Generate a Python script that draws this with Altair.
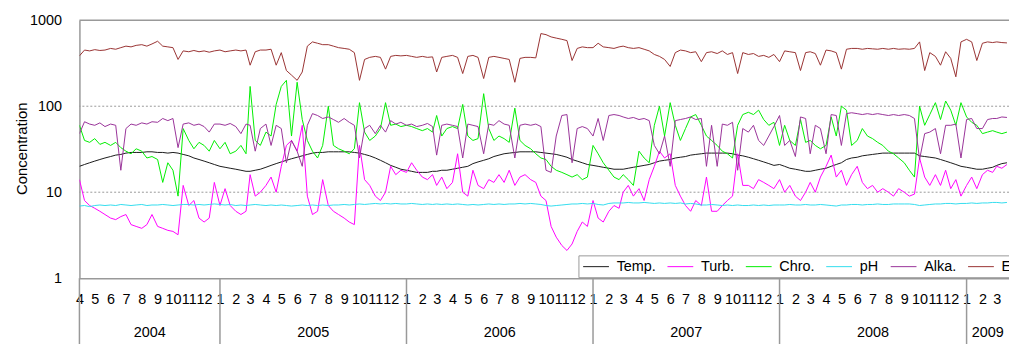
import altair as alt
import pandas as pd

# ---------------- data ----------------
SERIES = ["Temp.", "Turb.", "Chro.", "pH", "Alka.", "EC"]
COLORS = ["#1a1a1a", "#ff00ff", "#00ee00", "#33ddee", "#993399", "#993333"]

FIRST_MONTH = "2004-04-01"
LAST_MONTH = "2009-03-01"
READ_DAYS = [0, 10, 20]          # readings on the 1st, 11th and 21st of each month

YEAR_STARTS = ["2004-04-01", "2005-01-01", "2006-01-01", "2007-01-01",
               "2008-01-01", "2009-01-01"]
YEAR_LABELS = ["2004", "2005", "2006", "2007", "2008", "2009"]
AXIS_END = "2009-03-25"
Y_TICKS = [1, 10, 100, 1000]
GRID_AT = [10, 100]

temp = (
    [20, 21, 22,  23, 24, 25,  26, 27, 27.5,  28.5, 29, 29,  29, 29.5, 29.5,  29, 29, 28.5,  29, 28.5, 27.5,  26.5, 25, 24,  23, 22, 21]
    + [20, 19.5, 19,  18.5, 18, 17.5,  17.5, 18, 18.5,  19.5, 20.5, 21.5,  22.5, 23.5, 24.5,  25.5, 26.5, 27.5,  28.5, 29, 29,  29.5, 29.5, 29.5,  29.5, 29.5, 29,  28.5, 27.5, 26.5,  25, 23.5, 22,  20.5, 19.5, 18.5]
    + [18, 17.5, 17,  17, 17, 17.5,  17.5, 18, 18,  18.5, 19, 19.5,  20, 21.5, 22.5,  23.5, 24.5, 26,  27, 28, 28.5,  29, 29.5, 29.5,  29.5, 29.5, 29,  28.5, 28, 27.5,  26.5, 25.5, 24,  23, 22, 21]
    + [20.5, 20, 19.5,  19, 18.5, 18.5,  18.5, 19, 19.5,  20, 20.5, 21,  22, 23, 23.5,  24, 25, 25.5,  26, 27, 27.5,  28, 28.5, 28.5,  28.5, 28.5, 28.5,  28, 27, 26.5,  25.5, 24.5, 23.5,  22.5, 21.5, 20.5]
    + [21, 20, 19,  18.5, 18, 17.5,  17.5, 18, 18.5,  19, 20, 21,  22, 24, 25,  25.5, 26.5, 27,  27.5, 28, 28.5,  28.5, 28.5, 28.5,  28.5, 28.5, 28.5,  26.5, 26, 25.5,  25, 24, 23,  22, 21, 20]
    + [19.5, 19, 18.5,  18.5, 19, 19.5,  20.5, 21.5, 22]
)

turb = (
    [14, 8, 7,  6.5, 6, 5.5,  5, 4.8, 5.2,  5.5, 4.2, 4,  3.8, 4.2, 5.5,  4, 3.8, 3.6,  3.5, 3.2, 12,  7, 8, 5,  4.5, 5, 13]
    + [7, 11, 7,  6, 5.5, 6,  16, 9, 10,  12, 15, 10,  20, 35, 40,  30, 60, 9,  5.5, 6, 14,  7, 6, 5.5,  5, 4.5, 4.2,  35, 14, 12,  9, 8, 10,  20, 16, 18]
    + [17, 22, 18,  15, 14, 16,  12, 15, 11,  13, 28, 10,  9, 18, 12,  11, 14, 13,  16, 13, 18,  12, 15, 16,  14, 13, 9,  8, 4, 3,  2.4, 2.1, 2.5,  3.5, 4.5, 4]
    + [8, 5, 4.5,  6, 7, 6.5,  10, 12, 9,  11, 8, 14,  20, 30, 25,  28, 12, 9,  7, 6, 8,  7, 15, 6,  6, 7, 8,  9, 28, 12,  12, 11, 14,  13, 12, 11]
    + [14, 10, 12,  9, 8, 10,  13, 10, 15,  20, 27, 15,  18, 12, 16,  20, 13, 11,  12, 10, 11,  10, 9, 11,  10, 9, 9.5,  25, 15, 12,  16, 12, 18,  11, 14, 9]
    + [12, 15, 11,  16, 18, 17,  20, 19, 21]
)

chro = (
    [60, 40, 38,  42, 36, 38,  35, 38, 33,  30, 28, 32,  30, 25, 26,  24, 13, 22,  18, 9, 55,  40, 32, 38,  35, 30, 40]
    + [32, 38, 28,  30, 35, 28,  170, 40, 35,  50, 45, 105,  170, 200, 45,  190, 70, 40,  30, 25, 35,  100, 35, 32,  30, 28, 32,  110, 50, 40,  45, 55, 110,  60, 62, 58]
    + [60, 58, 55,  52, 55, 50,  78, 45, 55,  58, 55, 105,  45, 40, 42,  140, 55, 40,  45, 42, 38,  95, 40, 35,  32, 28, 25,  24, 20, 18,  17, 16, 15,  16, 14, 15]
    + [35, 28, 22,  18, 15, 14,  16, 14, 12,  30, 25, 22,  60, 100, 45,  110, 60, 40,  55, 75, 80,  60, 45, 40,  35, 30, 28,  25, 60, 80,  85, 80, 90,  70, 60, 65]
    + [35, 60, 40,  35, 70, 38,  40, 35, 32,  35, 75, 45,  100, 90, 35,  40, 55, 45,  42, 38, 35,  30, 28, 25,  22, 18, 15,  100, 60, 80,  110, 70, 115,  90, 60, 110]
    + [75, 65, 60,  48, 50, 52,  50, 48, 50]
)

ph = (
    [6.9, 7.0, 6.8,  7.0, 7.1, 7.0,  7.1, 7.0, 7.2,  7.1, 7.0, 7.1,  7.2, 7.0, 7.1,  7.1, 7.2, 7.1,  7.0, 7.1, 7.2,  7.2, 7.1, 7.2,  7.1, 7.2, 7.3]
    + [7.2, 7.1, 7.2,  7.0, 7.1, 7.0,  7.1, 7.2, 7.1,  7.0, 7.1, 7.0,  7.1, 7.0, 6.9,  7.0, 7.1, 7.0,  7.1, 7.0, 7.1,  7.0, 7.1, 7.1,  7.2, 7.1, 7.2,  7.3, 7.2, 7.3,  7.4, 7.3, 7.4,  7.3, 7.4, 7.3]
    + [7.3, 7.4, 7.3,  7.2, 7.3, 7.2,  7.3, 7.2, 7.3,  7.2, 7.3, 7.2,  7.1, 7.2, 7.1,  7.2, 7.3, 7.2,  7.3, 7.2, 7.3,  7.3, 7.4, 7.3,  7.4, 7.3, 7.2,  7.0, 6.9, 7.0,  7.1, 7.2, 7.3,  7.3, 7.4, 7.3]
    + [7.4, 7.2, 7.1,  7.4, 7.5, 7.5,  7.5, 7.6, 7.5,  7.5, 7.6, 7.5,  7.4, 7.5, 7.4,  7.5, 7.4, 7.5,  7.3, 7.4, 7.3,  7.1, 7.1, 7.2,  7.1, 7.0, 7.1,  7.0, 7.1, 7.0,  7.0, 7.1, 7.0,  7.1, 7.0, 7.1]
    + [7.1, 7.1, 7.2,  7.1, 7.1, 7.2,  7.1, 7.1, 7.2,  7.1, 7.0, 6.9,  7.1, 7.1, 7.2,  7.2, 7.1, 7.2,  7.2, 7.3, 7.2,  7.2, 7.3, 7.3,  7.3, 7.3, 7.2,  7.0, 7.1, 7.2,  7.3, 7.3, 7.4,  7.4, 7.3, 7.4]
    + [7.4, 7.5, 7.4,  7.5, 7.5, 7.6,  7.6, 7.5, 7.6]
)

alka = (
    [48, 66, 62,  60, 64, 58,  62, 60, 18,  55, 62, 60,  64, 62, 66,  65, 72, 68,  72, 33, 62,  64, 60, 62,  58, 50, 62]
    + [62, 60, 63,  58, 48, 62,  60, 30, 55,  62, 35, 60,  55, 22, 40,  30, 20, 60,  82, 78, 72,  75, 70, 65,  72, 65, 60,  25, 55, 60,  48, 60, 50,  68, 62, 65]
    + [60, 62, 58,  60, 63, 58,  27, 60, 62,  60, 58, 25,  62, 60, 58,  28, 62, 60,  68, 62, 60,  25, 60, 62,  60, 62, 58,  18, 17, 45,  78, 80, 22,  55, 58, 55]
    + [45, 72, 40,  78, 80, 78,  75, 72, 74,  70, 72, 68,  35, 28, 45,  20, 68, 70,  72, 75, 70,  72, 20, 60,  20, 62, 60,  65, 18, 55,  50, 60, 40,  35, 45, 58]
    + [78, 35, 40,  26, 75, 72,  28, 60, 55,  28, 80, 78,  35, 82, 84,  82, 80, 82,  80, 82, 80,  78, 80, 78,  80, 78, 72,  24, 48, 50,  55, 28, 60,  60, 62, 25]
    + [70, 72, 55,  55, 70, 72,  72, 75, 74]
)

ec = (
    [385, 450, 440,  455, 445, 450,  470, 460, 480,  500, 490, 510,  520, 500, 530,  570, 500, 490,  480, 350, 440,  430, 445, 430,  440, 425, 440]
    + [450, 430, 440,  450, 440, 450,  300, 430, 450,  450, 460, 300,  420, 260, 230,  200, 250, 500,  560, 540, 520,  520, 500, 480,  470, 460, 420,  200, 350, 370,  380, 370, 270,  380, 390, 385]
    + [390, 380, 370,  380, 370, 375,  250, 370, 380,  390, 370, 240,  380, 390, 370,  210, 370, 380,  370, 360, 350,  190, 360, 370,  370, 365, 700,  680, 640, 620,  600, 580, 340,  470, 490, 480]
    + [480, 540, 490,  480, 470, 490,  500, 480, 470,  480, 460, 440,  400, 380, 350,  290, 420, 450,  440, 420, 430,  330, 420, 430,  410, 440, 400,  420, 240, 420,  400, 410, 380,  390, 370, 400]
    + [330, 440, 430,  420, 260, 420,  430, 410, 300,  450, 440, 420,  270, 460, 470,  470, 460, 470,  465, 460, 470,  460, 470, 460,  465, 460, 470,  560, 260, 420,  380, 300, 430,  360, 220, 560]
    + [600, 560, 340,  540, 560, 550,  560, 550, 545]
)

# ---------------- tables ----------------
months = pd.date_range(FIRST_MONTH, LAST_MONTH, freq="MS")
dates = [(m + pd.Timedelta(days=d)).strftime("%Y-%m-%dT00:00:00")
         for m in months for d in READ_DAYS]

values_by_series = [temp, turb, chro, ph, alka, ec]
rows = []
for name, vals in zip(SERIES, values_by_series):
    if len(vals) != len(dates):
        raise ValueError(f"{name}: {len(vals)} values for {len(dates)} dates")
    for d, v in zip(dates, vals):
        rows.append({"date": d, "value": v, "series": name})
df = pd.DataFrame(rows)

bounds = pd.to_datetime(YEAR_STARTS + [AXIS_END])
df_sep = pd.DataFrame({"date": [b.strftime("%Y-%m-%dT00:00:00") for b in bounds[:-1]]})
mids = [bounds[i] + (bounds[i + 1] - bounds[i]) / 2 for i in range(len(YEAR_LABELS))]
df_years = pd.DataFrame({"date": [m.strftime("%Y-%m-%dT%H:%M:%S") for m in mids],
                         "label": YEAR_LABELS})
df_grid = pd.DataFrame({"value": GRID_AT})
df_top = pd.DataFrame({"value": [Y_TICKS[-1]]})

FONT = "Liberation Sans"
GRAY = "#999999"

x_scale = alt.Scale(domain=[alt.DateTime(year=2004, month=4, date=1),
                            alt.DateTime(year=2009, month=3, date=25)])
y_scale = alt.Scale(type="log", domain=[1, 1000], nice=False)

month_ticks = [alt.DateTime(year=int(m.year), month=int(m.month), date=1) for m in months]

x_axis = alt.Axis(values=month_ticks, format="%-m", title=None, ticks=False, grid=False,
                  labelFontSize=14.5, labelPadding=15, labelOverlap=False, labelFlush=False,
                  labelBound=False, labelColor="black", labelFont=FONT,
                  domainColor=GRAY, domainWidth=1.5)
y_axis = alt.Axis(values=Y_TICKS, format="d", grid=False, ticks=False,
                  labelPadding=18, labelFontSize=14.5, labelColor="black", labelFont=FONT,
                  domainColor=GRAY, domainWidth=1.5,
                  title="Concentration", titleFontSize=15, titleFontWeight="normal",
                  titleFont=FONT, titleColor="black", titleAngle=270,
                  titleX=-58, titleY=129, titleAlign="center", titleBaseline="middle")

X = alt.X("date:T", scale=x_scale, axis=x_axis)
Y = alt.Y("value:Q", scale=y_scale, axis=y_axis)

grid = alt.Chart(df_grid).mark_rule(
    color=GRAY, strokeDash=[2, 2], strokeWidth=1
).encode(y=Y)

top = alt.Chart(df_top).mark_rule(color=GRAY, strokeWidth=1.5).encode(y=Y)

lines = alt.Chart(df).mark_line(strokeWidth=1, clip=True).encode(
    x=X,
    y=Y,
    color=alt.Color(
        "series:N",
        sort=SERIES,
        scale=alt.Scale(domain=SERIES, range=COLORS),
        legend=alt.Legend(orient="none", legendX=503, legendY=237, direction="horizontal",
                          title=None, symbolType="M-1,0H3", symbolSize=169,
                          symbolStrokeWidth=1, symbolFillColor="transparent",
                          labelFontSize=14.5, labelFont=FONT,
                          labelColor="black", labelOffset=20, columnPadding=9,
                          padding=4, strokeColor=GRAY, fillColor="white"),
    ),
)

seps = alt.Chart(df_sep).mark_rule(color=GRAY, strokeWidth=1.5).encode(
    x=X,
    y=alt.value(260),
    y2=alt.value(330),
)

year_text = alt.Chart(df_years).mark_text(
    fontSize=14.5, font=FONT, color="black", align="center", baseline="middle"
).encode(
    x=X,
    y=alt.value(315),
    text="label:N",
)

chart = alt.layer(grid, top, lines, seps, year_text).properties(
    width=937,
    height=260,
    padding={"left": 72, "top": 11, "right": 0, "bottom": 65},
    autosize=alt.AutoSizeParams(type="none"),
    background="white",
).configure_view(stroke=None)

chart.save("out.html", embed_options={"renderer": "svg", "actions": False})
